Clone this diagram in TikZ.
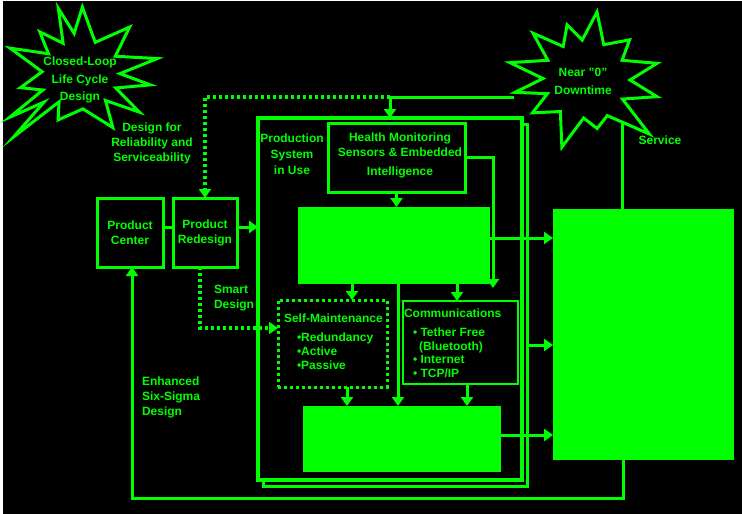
\documentclass[tikz,border=0pt]{standalone}
\usepackage{fontspec}
\setmainfont{Liberation Sans}
\usetikzlibrary{arrows.meta}
\definecolor{neon}{RGB}{0,255,0}
\begin{document}
\begin{tikzpicture}[x=1pt,y=-1pt,
  every node/.style={inner sep=0pt, outer sep=0pt},
  txt/.style={text=neon, font=\bfseries\fontsize{12}{15}\selectfont, align=center},
  box/.style={draw=neon, line width=3pt, fill=black},
  gbox/.style={draw=neon, fill=neon, line width=1pt},
  conn/.style={draw=neon, line width=3pt},
  arr/.style={conn, -{Triangle[length=9pt,width=12pt]}},
  dotl/.style={draw=neon, line width=3.5pt, dash pattern=on 3pt off 3pt},
  dotarr/.style={dotl, -{Triangle[length=9pt,width=12pt]}},
  burst/.style={draw=neon, line width=3pt, fill=black, line join=miter, miter limit=20}]
% background
\fill[white] (0,0) rectangle (742,514);
\fill[black] (3,1) rectangle (742,514);
\useasboundingbox (0,0) rectangle (742,514);

% starbursts
\draw[burst, shift={(80,75)}] (8:71) -- (20:38) -- (32:70) -- (45:36) -- (58:62) -- (85:34) -- (116:50) -- (128:34) -- (137:91) -- (143:45) -- (149:82) -- (158:40) -- (168:61) -- (185:38) -- (201:75) -- (214:38) -- (227:59) -- (242:36) -- (252:70) -- (262:42) -- (272:68) -- (295:36) -- (316:69) -- (332:40) -- (348:79) -- (358:40) -- cycle;
\draw[burst, shift={(585,80)}] (13:74) -- (27:42) -- (40:84) -- (58:42) -- (76:50) -- (92:38) -- (109:71) -- (128:40) -- (148:62) -- (160:40) -- (170:71) -- (182:42) -- (193:77) -- (208:42) -- (222:70) -- (237:40) -- (252:58) -- (266:40) -- (280:69) -- (298:40) -- (318:60) -- (332:42) -- (347:74) -- (0:45) -- cycle;

% main boxes
\node[draw=neon, line width=3pt, minimum width=264pt, minimum height=362pt] (psh) at (395,305) {};
\node[box, line width=3.5pt, minimum width=264pt, minimum height=362pt] (ps) at (390,299) {};
\node[box, minimum width=66pt, minimum height=69pt, txt] (pc) at (130,232.5) {Product\\Center};
\node[box, minimum width=64pt, minimum height=69pt, txt] (pr) at (205,232.5) {Product\\Redesign};
\node[box, minimum width=137pt, minimum height=69pt] (hm) at (396.5,157.5) {};
\node[gbox, minimum width=191pt, minimum height=76pt] (g1) at (393.5,245) {};
\node[draw=neon, line width=3pt, dash pattern=on 3pt off 3pt, fill=black, minimum width=109pt, minimum height=87pt] (sm) at (332.5,343.5) {};
\node[box, line width=2.5pt, minimum width=115pt, minimum height=83pt] (cm) at (460.5,342.5) {};
\node[gbox, minimum width=197pt, minimum height=65pt] (g2) at (401.5,438.5) {};
\node[gbox, minimum width=180pt, minimum height=250pt] (big) at (643,334) {};

% coordinates
\coordinate (tj) at (390,97);
\coordinate (tl) at (205,97);
\coordinate (s2w) at (514,97);
\coordinate (s2s) at (622,122);
\coordinate (lb1) at (623,498);
\coordinate (lb2) at (132,498);
\coordinate (yl) at (0,227);
\coordinate (d1) at (200,328);
\coordinate (hr) at (493,288);
\coordinate (ya) at (0,238);
\coordinate (yc) at (0,345);
\coordinate (yb) at (0,435);
\coordinate (x1) at (352,0);
\coordinate (x2) at (398,0);
\coordinate (x3) at (457,0);
\coordinate (x4) at (347,0);
\coordinate (x5) at (467,0);

% connectors
\draw[conn] (s2w) -- (tj);
\draw[arr] (tj) -- (tj |- ps.north);
\draw[dotarr] (tj) -- (tl) -- (pr.north);
\draw[conn] (s2s) -- (s2s |- big.north);
\draw[arr] (lb1 |- big.south) -- (lb1) -- (lb2) -- (lb2 |- pc.south);
\draw[conn] (pc.east |- yl) -- (pr.west |- yl);
\draw[arr] (pr.east |- yl) -- (ps.west |- yl);
\draw[dotarr] (d1 |- pr.south) -- (d1) -- (d1 -| sm.west);
\draw[arr] (hm.south) -- (hm.south |- g1.north);
\draw[arr] (hm.east) -| (hr);
\draw[arr] (g1.east |- ya) -- (big.west |- ya);
\draw[arr] (x1 |- g1.south) -- (x1 |- sm.north);
\draw[arr] (x2 |- g1.south) -- (x2 |- g2.north);
\draw[arr] (x3 |- g1.south) -- (x3 |- cm.north);
\draw[arr] (x4 |- sm.south) -- (x4 |- g2.north);
\draw[arr] (x5 |- cm.south) -- (x5 |- g2.north);
\draw[arr] (psh.east |- yc) -- (big.west |- yc);
\draw[arr] (g2.east |- yb) -- (big.west |- yb);

% texts
\node[txt, font=\bfseries\fontsize{12}{17.5}\selectfont] (t1) at (80,80) {Closed-Loop\\Life Cycle\\Design};
\node[txt] (t2) at (152,143) {Design for\\Reliability and\\Serviceability};
\node[txt, font=\bfseries\fontsize{12}{18}\selectfont] (t3) at (583,81) {Near {"}0{"}\\Downtime};
\node[txt] (t4) at (660,140) {Service};
\node[txt, font=\bfseries\fontsize{12}{16}\selectfont] (t5) at (292,154) {Production\\System\\in Use};
\node[txt] (t6) at (400,155) {Health Monitoring\\Sensors \& Embedded\\[4pt]Intelligence};
\node[txt, align=left, anchor=west] (t7) at (214,298) {Smart\\Design};
\node[txt, align=left, anchor=west] (t8) at (142,397) {Enhanced\\Six-Sigma\\Design};
\node[txt, anchor=west] (t9) at (284,318) {Self-Maintenance};
\node[txt, align=left, anchor=north west, font=\bfseries\fontsize{12}{14}\selectfont] (t10) at (297,333) {•Redundancy\\•Active\\•Passive};
\node[txt, anchor=west] (t11) at (404,313) {Communications};
\node[txt, align=left, anchor=north west, font=\bfseries\fontsize{12}{13.5}\selectfont] (t12) at (413,328) {• Tether Free\\\hspace*{6pt}(Bluetooth)\\• Internet\\• TCP/IP};
\end{tikzpicture}
\end{document}
